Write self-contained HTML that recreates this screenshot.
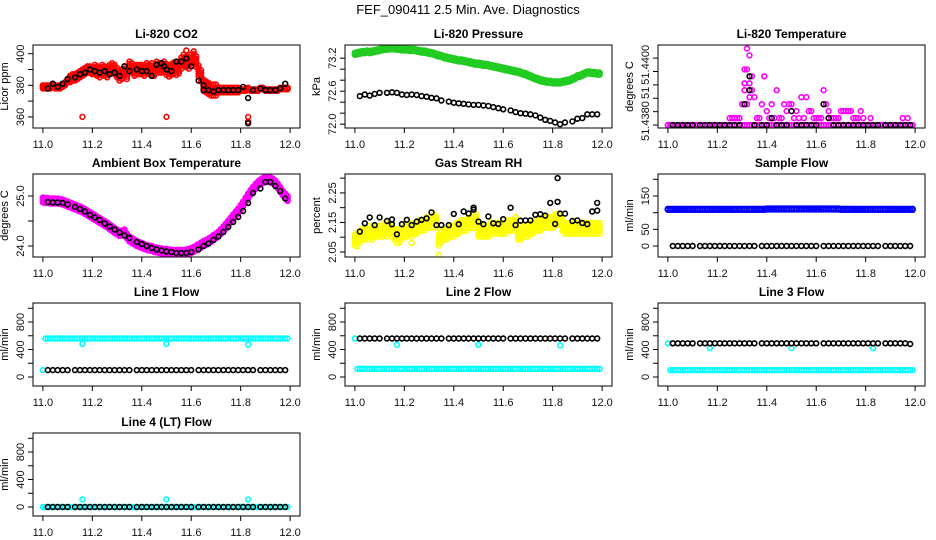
<!DOCTYPE html>
<html><head><meta charset="utf-8"><style>
html,body{margin:0;padding:0;background:#fff}
svg{display:block}
text{font-family:"Liberation Sans",Arial,sans-serif}
</style></head><body>
<svg id="chart" width="936" height="540" viewBox="0 0 936 540" xmlns="http://www.w3.org/2000/svg">
<rect width="936" height="540" fill="#fff"/>
<text x="468" y="14" font-size="13" text-anchor="middle">FEF_090411  2.5 Min. Ave. Diagnostics</text>
</svg>
<script>
// ---- data ----
const blackTimes=[11.02,11.04,11.06,11.08,11.10,11.13,11.15,11.17,11.19,11.21,
11.23,11.25,11.27,11.29,11.31,11.33,11.35,11.38,11.40,11.42,
11.44,11.46,11.48,11.50,11.52,11.54,11.56,11.58,11.60,11.63,
11.65,11.67,11.69,11.71,11.73,11.75,11.77,11.79,11.81,11.83,
11.85,11.88,11.90,11.92,11.94,11.96,11.98];
const denseTimes=[11.00,11.01,11.02,11.03,11.04,11.05,11.06,11.07,11.08,11.09,
11.10,11.11,11.12,11.13,11.14,11.15,11.16,11.17,11.18,11.19,
11.20,11.21,11.22,11.23,11.24,11.25,11.26,11.27,11.28,11.29,
11.30,11.31,11.32,11.33,11.34,11.35,11.36,11.37,11.38,11.39,
11.40,11.41,11.42,11.43,11.44,11.45,11.46,11.47,11.48,11.49,
11.50,11.51,11.52,11.53,11.54,11.55,11.56,11.57,11.58,11.59,
11.60,11.61,11.62,11.63,11.64,11.65,11.66,11.67,11.68,11.69,
11.70,11.71,11.72,11.73,11.74,11.75,11.76,11.77,11.78,11.79,
11.80,11.81,11.82,11.83,11.84,11.85,11.86,11.87,11.88,11.89,
11.90,11.91,11.92,11.93,11.94,11.95,11.96,11.97,11.98,11.99];
const xTicks=[11.0,11.2,11.4,11.6,11.8,12.0];
const xTickLabels=["11.0","11.2","11.4","11.6","11.8","12.0"];

// CO2
const co2Dense=[379,379,379,379,380,379,379,379,380,381,383,384,385,385,386,387,388,389,390,390,
389,390,389,388,390,389,388,390,391,390,388,386,387,389,387,392,391,389,390,390,
390,389,391,390,391,389,392,391,391,392,390,389,390,391,390,391,394,396,395,394,
396,398,395,389,386,380,379,378,377,377,377,377,377,377,377,377,377,377,377,377,
377,377,377,378,377,377,377,377,378,378,377,377,377,377,377,377,378,378,378,378];
const co2Spread=[1,2,3,3,3,3.5,3.5,1.5,0.5,0.5];
const co2Black=[378,381,379,381,384,385,387,388,390,389,388,389,387,388,386,392,389,390,389,389,
386,393,394,390,389,395,395,397,392,383,377,377,376,377,377,377,377,377,379,372,
377,378,377,377,377,378,381];
const co2RedOutT=[11.16,11.50,11.83,11.83,11.58];
const co2RedOutV=[360,360,360,357,402];
const co2BlackOutT=[11.83,11.49,11.65];
const co2BlackOutV=[356,392,380];

// Pressure
const presDense=[73.28,73.29,73.30,73.31,73.31,73.32,73.31,73.32,73.33,73.34,
73.35,73.36,73.37,73.37,73.38,73.38,73.38,73.37,73.37,73.36,
73.36,73.36,73.35,73.35,73.35,73.34,73.33,73.32,73.32,73.31,
73.30,73.29,73.28,73.26,73.25,73.24,73.22,73.21,73.20,73.19,
73.18,73.17,73.16,73.16,73.15,73.14,73.13,73.12,73.11,73.10,
73.10,73.09,73.08,73.08,73.07,73.06,73.05,73.04,73.03,73.02,
73.01,73.00,72.99,72.98,72.97,72.96,72.95,72.94,72.92,72.91,
72.89,72.87,72.85,72.83,72.82,72.80,72.79,72.78,72.77,72.77,
72.76,72.76,72.76,72.76,72.77,72.78,72.79,72.80,72.82,72.84,
72.87,72.88,72.90,72.92,72.94,72.94,72.93,72.93,72.92,72.92];
const presSpread=[0.02,0.02,0.02,0.02,0.02,0.02,0.02,0.02,0.02,0.02];
const presBlack=[72.51,72.54,72.52,72.55,72.57,72.57,72.58,72.57,72.54,72.53,
72.54,72.53,72.51,72.50,72.48,72.47,72.43,72.41,72.39,72.38,
72.37,72.36,72.35,72.35,72.34,72.33,72.31,72.29,72.27,72.25,
72.22,72.20,72.19,72.18,72.16,72.12,72.08,72.06,72.03,72.00,
72.03,72.05,72.10,72.11,72.18,72.18,72.18];

// Li-820 temperature
const tempLow=[51.4380,51.4380,51.4380,51.4380,51.4380,51.4380,51.4380,51.4380,51.4380,51.4380,
51.4380,51.4380,51.4380,51.4380,51.4380,51.4380,51.4380,51.4380,51.4380,51.4380,
51.4380,51.4380,51.4380,51.4380,51.4380,51.4380,51.4380,51.4380,51.4380,51.4380,
51.4380,51.4380,51.4380,51.4380,51.4380,51.4380,51.4380,51.4380,51.4380,51.4380,
51.4380,51.4380,51.4380,51.4380,51.4380,51.4380,51.4380,51.4380,51.4380,51.4380,
51.4380,51.4380,51.4380,51.4380,51.4380,51.4380,51.4380,51.4380,51.4380,51.4380,
51.4380,51.4380,51.4380,51.4380,51.4380,51.4380,51.4380,51.4380,51.4380,51.4380,
51.4380,51.4380,51.4380,51.4380,51.4380,51.4380,51.4380,51.4380,51.4380,51.4380,
51.4380,51.4380,51.4380,51.4380,51.4380,51.4380,51.4380,51.4380,51.4380,51.4380,
51.4380,51.4380,51.4380,51.4380,51.4380,51.4380,51.4380,51.4380,51.4380,51.4380];
const tempHigh=[51.43800,51.43800,51.43800,51.43800,51.43800,51.43800,51.43800,51.43800,51.43800,51.43800,
51.43800,51.43800,51.43800,51.43800,51.43800,51.43800,51.43800,51.43800,51.43800,51.43800,
51.43800,51.43800,51.43800,51.43800,51.43800,51.43826,51.43826,51.43826,51.43826,51.43826,
51.43878,51.43930,51.44086,51.44060,51.43982,51.43904,51.43826,51.43826,51.43878,51.43982,
51.43852,51.43826,51.43878,51.43826,51.43930,51.43826,51.43826,51.43878,51.43852,51.43878,
51.43878,51.43826,51.43852,51.43826,51.43904,51.43826,51.43904,51.43852,51.43852,51.43826,
51.43826,51.43826,51.43826,51.43930,51.43878,51.43852,51.43826,51.43826,51.43826,51.43826,
51.43852,51.43852,51.43852,51.43852,51.43852,51.43826,51.43826,51.43826,51.43852,51.43826,
51.43800,51.43800,51.43826,51.43800,51.43800,51.43800,51.43800,51.43800,51.43800,51.43800,
51.43800,51.43800,51.43800,51.43800,51.43800,51.43826,51.43800,51.43826,51.43800,51.43800];
const tempExtraT=[11.31,11.32,11.33,11.31,11.33,11.34,11.32];
const tempExtraV=[51.44008,51.44008,51.43956,51.43956,51.43904,51.43930,51.43878];
const tempBlack=[51.4380,51.4380,51.4380,51.4380,51.4380,51.4380,51.4380,51.4380,51.4380,51.4380,
51.4380,51.4380,51.4380,51.4380,51.43878,51.43982,51.4380,51.4380,51.4380,51.43826,
51.4380,51.4380,51.4380,51.43852,51.4380,51.4380,51.4380,51.4380,51.4380,51.43878,
51.43826,51.4380,51.4380,51.4380,51.4380,51.4380,51.4380,51.4380,51.4380,51.4380,
51.4380,51.4380,51.4380,51.4380,51.4380,51.4380,51.4380];
const tempBlackExtraT=[11.33];
const tempBlackExtraV=[51.43930];

// Ambient box temperature
const ambDense=[24.92,24.91,24.91,24.90,24.90,24.90,24.90,24.89,24.88,24.86,
24.84,24.82,24.80,24.78,24.76,24.74,24.72,24.69,24.66,24.63,
24.60,24.57,24.54,24.51,24.48,24.45,24.42,24.38,24.35,24.31,
24.28,24.25,24.26,24.28,24.20,24.14,24.11,24.08,24.05,24.03,
24.01,23.99,23.97,23.96,23.95,23.93,23.92,23.91,23.90,23.89,
23.89,23.88,23.88,23.87,23.87,23.87,23.87,23.87,23.88,23.89,
23.91,23.93,23.96,23.99,24.02,24.05,24.07,24.10,24.13,24.17,
24.20,24.24,24.29,24.34,24.40,24.46,24.52,24.58,24.64,24.70,
24.77,24.84,24.92,25.00,25.07,25.13,25.19,25.24,25.28,25.31,
25.33,25.33,25.32,25.30,25.26,25.20,25.13,25.06,25.00,24.95];
const ambSpread=[0.05,0.05,0.05,0.05,0.05,0.05,0.05,0.05,0.05,0.05];
const ambBlack=[24.88,24.87,24.87,24.86,24.83,24.78,24.74,24.69,24.62,24.57,
24.52,24.45,24.39,24.33,24.27,24.21,24.16,24.08,24.04,24.00,
23.96,23.93,23.91,23.89,23.88,23.86,23.86,23.86,23.88,23.93,
24.00,24.05,24.12,24.19,24.28,24.38,24.48,24.58,24.70,24.86,
25.06,25.15,25.28,25.28,25.20,25.10,24.95];

// Gas stream RH
const rhDense=[2.09,2.10,2.10,2.11,2.11,2.11,2.12,2.11,2.12,2.12,
2.12,2.12,2.13,2.12,2.13,2.12,2.11,2.11,2.10,2.11,
2.12,2.12,2.13,2.12,2.13,2.13,2.14,2.14,2.14,2.15,
2.15,2.15,2.16,2.15,2.09,2.10,2.11,2.11,2.12,2.12,
2.12,2.13,2.13,2.14,2.14,2.14,2.15,2.15,2.15,2.16,
2.12,2.12,2.12,2.12,2.12,2.13,2.13,2.13,2.13,2.13,
2.13,2.13,2.14,2.14,2.14,2.15,2.11,2.11,2.12,2.12,
2.12,2.13,2.13,2.14,2.14,2.14,2.15,2.15,2.15,2.15,
2.15,2.16,2.16,2.16,2.14,2.13,2.13,2.13,2.13,2.13,
2.13,2.13,2.13,2.13,2.13,2.13,2.13,2.13,2.13,2.13];
const rhSpread=[0.018,0.018,0.018,0.018,0.018,0.018,0.018,0.018,0.018,0.018];
const rhYellowOutT=[11.34,11.01,11.17,11.23];
const rhYellowOutV=[2.04,2.07,2.08,2.08];
const rhBlack=[2.119,2.147,2.167,2.141,2.167,2.155,2.144,2.110,2.144,2.159,
2.141,2.153,2.159,2.164,2.184,2.141,2.141,2.141,2.179,2.144,
2.187,2.180,2.193,2.153,2.144,2.170,2.147,2.145,2.161,2.200,
2.141,2.156,2.157,2.157,2.176,2.178,2.173,2.216,2.145,2.180,
2.180,2.155,2.157,2.148,2.144,2.187,2.216];
const rhBlackExtraT=[11.82,11.82,11.15,11.48,11.98];
const rhBlackExtraV=[2.30,2.22,2.16,2.20,2.19];

// Sample flow
const sampleBlue=[110,110,110,110,110,110,110,110,110,110,110,110,110,110,110,110,110,110,110,110,
110,110,110,110,110,110,110,110,110,110,110,110,110,110,110,110,110,110,110,110,
111,111,111,111,111,111,111,111,111,111,111,111,111,111,111,111,111,111,111,111,
111,111,111,111,111,111,111,111,111,111,110,110,110,110,110,110,110,110,110,110,
110,110,110,110,110,110,110,110,110,110,110,110,110,110,110,110,110,110,110,110];
const sampleBlack=[0,0,0,0,0,0,0,0,0,0,0,0,0,0,0,0,0,0,0,0,0,0,0,0,0,0,0,0,0,0,
0,0,0,0,0,0,0,0,0,0,0,0,0,0,0,0,0];

// Line flows
const line1Cyan=[100,560,560,560,560,560,560,560,560,560,560,560,560,560,560,560,560,560,560,560,
560,560,560,560,560,560,560,560,560,560,560,560,560,560,560,560,560,560,560,560,
560,560,560,560,560,560,560,560,560,560,560,560,560,560,560,560,560,560,560,560,
560,560,560,560,560,560,560,560,560,560,560,560,560,560,560,560,560,560,560,560,
560,560,560,560,560,560,560,560,560,560,560,560,560,560,560,560,560,560,560,560];
const line1Black=[100,100,100,100,100,100,100,100,100,100,100,100,100,100,100,100,100,100,100,100,
100,100,100,100,100,100,100,100,100,100,100,100,100,100,100,100,100,100,100,100,
100,100,100,100,100,100,100];
const line1OutT=[11.16,11.50,11.83];
const line1OutV=[480,480,470];

const line2Cyan=[560,120,120,120,120,120,120,120,120,120,120,120,120,120,120,120,120,120,120,120,
120,120,120,120,120,120,120,120,120,120,120,120,120,120,120,120,120,120,120,120,
120,120,120,120,120,120,120,120,120,120,120,120,120,120,120,120,120,120,120,120,
120,120,120,120,120,120,120,120,120,120,120,120,120,120,120,120,120,120,120,120,
120,120,120,120,120,120,120,120,120,120,120,120,120,120,120,120,120,120,120,120];
const line2Black=[560,560,560,560,560,560,560,560,560,560,560,560,560,560,560,560,560,560,560,560,
560,560,560,560,560,560,560,560,560,560,560,560,560,560,560,560,560,560,560,560,
560,560,560,560,560,560,560];
const line2OutT=[11.17,11.50,11.83];
const line2OutV=[470,470,460];

const line3Cyan=[490,100,100,100,100,100,100,100,100,100,100,100,100,100,100,100,100,100,100,100,
100,100,100,100,100,100,100,100,100,100,100,100,100,100,100,100,100,100,100,100,
100,100,100,100,100,100,100,100,100,100,100,100,100,100,100,100,100,100,100,100,
100,100,100,100,100,100,100,100,100,100,100,100,100,100,100,100,100,100,100,100,
100,100,100,100,100,100,100,100,100,100,100,100,100,100,100,100,100,100,100,100];
const line3Black=[490,490,490,490,490,490,490,490,490,490,490,490,490,490,490,490,490,490,490,490,
490,490,490,490,490,490,490,490,490,490,490,490,490,490,490,490,490,490,490,490,
490,490,490,490,490,490,480];
const line3OutT=[11.17,11.50,11.83];
const line3OutV=[420,420,420];

const line4Cyan=[0,0,0,0,0,0,0,0,0,0,0,0,0,0,0,0,0,0,0,0,0,0,0,0,0,0,0,0,0,0,0,0,0,0,0,0,0,0,0,0,0,0,0,0,0,0,0,0,0,0,
0,0,0,0,0,0,0,0,0,0,0,0,0,0,0,0,0,0,0,0,0,0,0,0,0,0,0,0,0,0,0,0,0,0,0,0,0,0,0,0,0,0,0,0,0,0,0,0,0,0];
const line4Black=[0,0,0,0,0,0,0,0,0,0,0,0,0,0,0,0,0,0,0,0,0,0,0,0,0,0,0,0,0,0,
0,0,0,0,0,0,0,0,0,0,0,0,0,0,0,0,0];
const line4OutT=[11.16,11.50,11.83];
const line4OutV=[110,110,110];

const flowTicks=[0,200,400,600,800,1000];

// ---- drawing ----
const NS="http://www.w3.org/2000/svg";
const svg=document.getElementById('chart');
const colLeft=[33,345,658], rowTop=[45,174,303,433], PW=267, PH=83;
function mk(tag,attrs,parent){const e=document.createElementNS(NS,tag);for(const k in attrs)e.setAttribute(k,attrs[k]);(parent||svg).appendChild(e);return e;}

function makePanel(col,row,name,title,ylab,ylim,yTicks,yLabVals,yLabTexts){
  const g=mk('g',{});
  
  
  const L=colLeft[col],T=rowTop[row];
  const p={g,L,T,
    x:v=>L+(v-10.96)/1.08*PW,
    y:v=>T+PH-(v-ylim[0])/(ylim[1]-ylim[0])*PH};
  const clipId='clip-'+name;
  const cp=mk('clipPath',{id:clipId},g);mk('rect',{x:L,y:T,width:PW,height:PH},cp);
  p.data=mk('g',{'clip-path':'url(#'+clipId+')'},g);
  const frame=mk('rect',{x:L,y:T,width:PW,height:PH,fill:'none',stroke:'#000','stroke-width':1},g);
  
  
  const tt=mk('text',{x:L+PW/2,y:T-7,'font-size':12,'font-weight':'bold','text-anchor':'middle'},g);
  tt.textContent=title;
  
  
  const xa=mk('g',{},g);
  
  
  mk('line',{x1:p.x(xTicks[0]),x2:p.x(xTicks[xTicks.length-1]),y1:T+PH,y2:T+PH,stroke:'#000'},xa);
  xTicks.forEach((v,i)=>{
    mk('line',{x1:p.x(v),x2:p.x(v),y1:T+PH,y2:T+PH+5,stroke:'#000'},xa);
    const t=mk('text',{x:p.x(v),y:T+PH+20,'font-size':11,'text-anchor':'middle',fill:'#111'},xa);
    t.textContent=xTickLabels[i];
  });
  const ya=mk('g',{},g);
  
  
  mk('line',{x1:L,x2:L,y1:p.y(yTicks[0]),y2:p.y(yTicks[yTicks.length-1]),stroke:'#000'},ya);
  yTicks.forEach(v=>mk('line',{x1:L-5,x2:L,y1:p.y(v),y2:p.y(v),stroke:'#000'},ya));
  yLabVals.forEach((v,i)=>{
    const yy=p.y(v);
    const t=mk('text',{x:L-9,y:yy,'font-size':11,'text-anchor':'middle',fill:'#111',transform:`rotate(-90 ${L-9} ${yy})`},ya);
    t.textContent=yLabTexts[i];
  });
  const yt=mk('text',{x:L-25,y:T+PH/2,'font-size':11,'text-anchor':'middle',transform:`rotate(-90 ${L-25} ${T+PH/2})`},g);
  yt.textContent=ylab;
  
  
  return p;
}
function pts(p,name,ts,vs,color,spread){
  const g=mk('g',{fill:'none',stroke:color,'stroke-width':1.6},p.data);
  
  
  ts.forEach((t,i)=>{
    const v=vs[i];
    const offs=spread?[-1,-0.5,0,0.5,1].map(f=>f*spread[Math.min(9,Math.floor((t-11)*10))]):[0];
    offs.forEach(o=>{
      mk('circle',{cx:p.x(t).toFixed(1),cy:p.y(v+o).toFixed(1),r:2.4},g);
    });
  });
}

let p=makePanel(0,0,'co2','Li-820 CO2','Licor ppm',[353,405.5],[360,370,380,390,400],[360,380,400],['360','380','400']);
pts(p,'co2-dense-series',denseTimes,co2Dense,'#ff0000',co2Spread);
pts(p,'co2-red-outliers',co2RedOutT,co2RedOutV,'#ff0000');
pts(p,'co2-average-series',blackTimes,co2Black,'#000');
pts(p,'co2-average-outliers',co2BlackOutT,co2BlackOutV,'#000');

p=makePanel(1,0,'pressure','Li-820 Pressure','kPa',[71.93,73.44],[72.0,72.2,72.4,72.6,72.8,73.0,73.2],[72.0,72.6,73.2],['72.0','72.6','73.2']);
pts(p,'pressure-dense-series',denseTimes,presDense,'#22cc22',presSpread);
pts(p,'pressure-average-series',blackTimes,presBlack,'#000');

p=makePanel(2,0,'li820-temp','Li-820 Temperature','degrees C',[51.43789,51.44099],[51.4380,51.4385,51.4390,51.4395,51.4400,51.4405],[51.43815,51.4392,51.44025],['51.4380','51','51.4400']);
pts(p,'li820-temp-base-series',denseTimes,tempLow,'#ff00ff');
pts(p,'li820-temp-upper-series',denseTimes,tempHigh,'#ff00ff');
pts(p,'li820-temp-extra-points',tempExtraT,tempExtraV,'#ff00ff');
pts(p,'li820-temp-average-series',blackTimes,tempBlack,'#000');
pts(p,'li820-temp-average-extra',tempBlackExtraT,tempBlackExtraV,'#000');

p=makePanel(0,1,'ambient-temp','Ambient Box Temperature','degrees C',[23.78,25.44],[24.0,24.5,25.0],[24.0,25.0],['24.0','25.0']);
pts(p,'ambient-dense-series',denseTimes,ambDense,'#ff00ff',ambSpread);
pts(p,'ambient-average-series',blackTimes,ambBlack,'#000');

p=makePanel(1,1,'gas-rh','Gas Stream RH','percent',[2.033,2.314],[2.05,2.10,2.15,2.20,2.25,2.30],[2.05,2.15,2.25],['2.05','2.15','2.25']);
pts(p,'rh-dense-series',denseTimes,rhDense,'#ffff00',rhSpread);
pts(p,'rh-yellow-outliers',rhYellowOutT,rhYellowOutV,'#ffff00');
pts(p,'rh-average-series',blackTimes,rhBlack,'#000');
pts(p,'rh-average-extra',rhBlackExtraT,rhBlackExtraV,'#000');

p=makePanel(2,1,'sample-flow','Sample Flow','ml/min',[-33,216],[0,50,100,150,200],[0,50,150],['0','50','150']);
pts(p,'sample-flow-dense-series',denseTimes,sampleBlue,'#0000ff',[1.5,1.5,1.5,1.5,1.5,1.5,1.5,1.5,1.5,1.5]);
pts(p,'sample-flow-average-series',blackTimes,sampleBlack,'#000');

const flowLim=[-131,1077];
const flowLabVals=[0,400,800], flowLabTxt=['0','400','800'];
p=makePanel(0,2,'line1-flow','Line 1 Flow','ml/min',flowLim,flowTicks,flowLabVals,flowLabTxt);
pts(p,'line1-dense-series',denseTimes,line1Cyan,'#00ffff');
pts(p,'line1-outliers',line1OutT,line1OutV,'#00ffff');
pts(p,'line1-average-series',blackTimes,line1Black,'#000');

p=makePanel(1,2,'line2-flow','Line 2 Flow','ml/min',flowLim,flowTicks,flowLabVals,flowLabTxt);
pts(p,'line2-dense-series',denseTimes,line2Cyan,'#00ffff');
pts(p,'line2-outliers',line2OutT,line2OutV,'#00ffff');
pts(p,'line2-average-series',blackTimes,line2Black,'#000');

p=makePanel(2,2,'line3-flow','Line 3 Flow','ml/min',flowLim,flowTicks,flowLabVals,flowLabTxt);
pts(p,'line3-dense-series',denseTimes,line3Cyan,'#00ffff');
pts(p,'line3-outliers',line3OutT,line3OutV,'#00ffff');
pts(p,'line3-average-series',blackTimes,line3Black,'#000');

p=makePanel(0,3,'line4-flow','Line 4 (LT) Flow','ml/min',flowLim,flowTicks,flowLabVals,flowLabTxt);
pts(p,'line4-dense-series',denseTimes,line4Cyan,'#00ffff');
pts(p,'line4-outliers',line4OutT,line4OutV,'#00ffff');
pts(p,'line4-average-series',blackTimes,line4Black,'#000');
</script>
</body></html>
